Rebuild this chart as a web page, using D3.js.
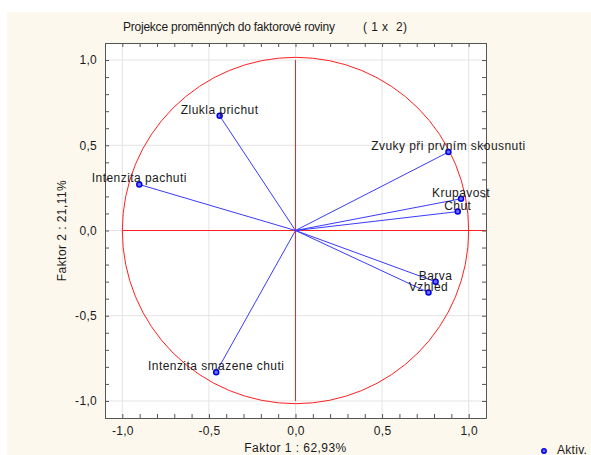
<!DOCTYPE html>
<html>
<head>
<meta charset="utf-8">
<script src="https://cdn.jsdelivr.net/npm/d3@7/dist/d3.min.js"></script>
<style>
  html, body { margin: 0; padding: 0; background: #ffffff; }
  svg { display: block; }
  text { font-family: "Liberation Sans", Arial, sans-serif; fill: #1a1a1a; }
</style>
</head>
<body>
<svg id="chart" width="591" height="455"></svg>
<script>
// Variable loadings on factors 1 and 2
const variables = ["Zlukla prichut", "Intenzita pachuti", "Zvuky při prvním skousnuti", "Krupavost", "Chut", "Barva", "Vzhled", "Intenzita smazene chuti"];
const factor1 = [-0.438, -0.902, 0.883, 0.956, 0.937, 0.809, 0.768, -0.458];
const factor2 = [0.673, 0.270, 0.460, 0.186, 0.111, -0.301, -0.364, -0.831];
const majorTicks = [-1.0, -0.5, 0.0, 0.5, 1.0];
const titleText = "Projekce proměnných do faktorové roviny";
const titleSuffix = "( 1 x  2)";
const xTitle = "Faktor 1 : 62,93%";
const yTitle = "Faktor 2 : 21,11%";
const legendLabel = "Aktiv.";

const svg = d3.select("#chart");
const W = 591, H = 455;
const plotL = 105, plotR = 486, plotT = 43, plotB = 418;
const FS = 12, LS = 0.45;

// cream panel behind the whole chart
svg.append("rect").attr("x", 7).attr("y", 12).attr("width", W - 7).attr("height", H - 12).attr("fill", "#fdf8ed");

const x = d3.scaleLinear().domain([-1.1, 1.1]).range([plotL, plotR]);
const y = d3.scaleLinear().domain([-1.1, 1.1]).range([plotB, plotT]);

// plot area
svg.append("rect").attr("x", plotL).attr("y", plotT).attr("width", plotR - plotL).attr("height", plotB - plotT).attr("fill", "#ffffff");

// light grid at major ticks
const grid = svg.append("g").attr("stroke", "#e3e3e3").attr("stroke-width", 1);
majorTicks.forEach(t => {
  grid.append("line").attr("x1", x(t)).attr("x2", x(t)).attr("y1", plotT).attr("y2", plotB);
  grid.append("line").attr("x1", plotL).attr("x2", plotR).attr("y1", y(t)).attr("y2", y(t));
});

// unit circle and reference cross
const red = "#ff2020";
const refs = svg.append("g").attr("fill", "none").attr("stroke", red).attr("stroke-width", 1);
refs.append("circle").attr("cx", x(0)).attr("cy", y(0)).attr("r", x(1) - x(0));
refs.append("path").attr("d", `M${x(0)},${y(1)}V${y(-1)}`);
refs.append("path").attr("d", `M${x(-1)},${y(0)}H${x(1.1)}`);

const data = variables.map((name, i) => ({ name, f1: factor1[i], f2: factor2[i] }));
const blue = "#3a3aff";

// vectors from the origin
svg.append("g").selectAll("line").data(data).join("line")
  .attr("x1", x(0)).attr("y1", y(0))
  .attr("x2", d => x(d.f1)).attr("y2", d => y(d.f2))
  .attr("stroke", blue).attr("stroke-width", 1);

// loading markers
svg.append("g").selectAll("circle").data(data).join("circle")
  .attr("cx", d => x(d.f1)).attr("cy", d => y(d.f2)).attr("r", 2.5)
  .attr("fill", "#6f6fff").attr("stroke", "#0000ee").attr("stroke-width", 1.5);

// axes with inward ticks
const fmt = v => d3.format(".1f")(v).replace("−", "-").replace(".", ",");
const minorTicks = d3.range(-11, 12).map(i => i / 10);

function addAxis(gen, transform, showLabels) {
  const g = svg.append("g").attr("transform", transform)
    .call(gen.tickValues(minorTicks).tickSizeInner(-4).tickSizeOuter(0).tickPadding(8)
      .tickFormat(v => (showLabels && majorTicks.some(m => Math.abs(m - v) < 1e-9)) ? fmt(v) : ""));
  g.select(".domain").attr("stroke", "#555555");
  g.selectAll(".tick line").attr("stroke", "#555555");
  g.selectAll(".tick text").attr("font-size", FS).attr("letter-spacing", 0.3).attr("fill", "#1a1a1a")
    .attr("font-family", "\"Liberation Sans\", Arial, sans-serif");
  return g;
}
addAxis(d3.axisBottom(x), `translate(0,${plotB})`, true);
addAxis(d3.axisTop(x), `translate(0,${plotT})`, false);
addAxis(d3.axisLeft(y), `translate(${plotL},0)`, true);
addAxis(d3.axisRight(y), `translate(${plotR},0)`, false);

// variable names centred just above each marker
svg.append("g").selectAll("text").data(data).join("text")
  .attr("x", d => x(d.f1))
  .attr("y", d => y(d.f2) - 2)
  .attr("text-anchor", "middle")
  .attr("font-size", FS).attr("letter-spacing", LS)
  .text(d => d.name);

// titles
svg.append("text").attr("x", 123).attr("y", 31).attr("font-size", 12).attr("textLength", 212).text(titleText);
svg.append("text").attr("x", 363).attr("y", 31).attr("font-size", 12).attr("xml:space", "preserve")
  .attr("textLength", 44).text(titleSuffix);
svg.append("text").attr("x", x(0)).attr("y", 452).attr("text-anchor", "middle")
  .attr("font-size", FS).attr("letter-spacing", LS).text(xTitle);
svg.append("text").attr("transform", `translate(66,${y(0)}) rotate(-90)`).attr("text-anchor", "middle")
  .attr("font-size", FS).attr("letter-spacing", LS).text(yTitle);

// legend
svg.append("circle").attr("cx", 544).attr("cy", 451).attr("r", 2.2)
  .attr("fill", "#6f6fff").attr("stroke", "#0000ee").attr("stroke-width", 1.5);
svg.append("text").attr("x", 557).attr("y", 454).attr("font-size", FS).attr("letter-spacing", 0.3).text(legendLabel);
</script>
</body>
</html>
